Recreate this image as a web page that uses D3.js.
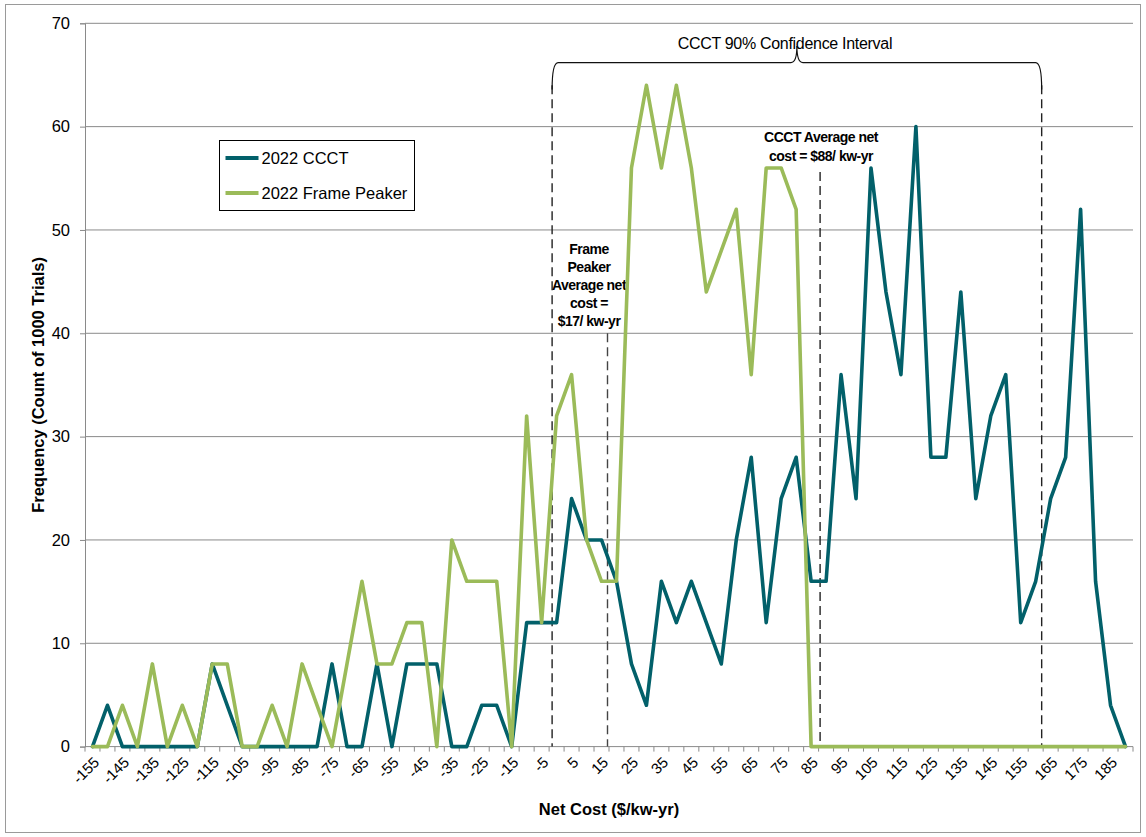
<!DOCTYPE html>
<html>
<head>
<meta charset="utf-8">
<script src="https://cdn.jsdelivr.net/npm/d3@7/dist/d3.min.js"></script>
<style>
  html, body { margin: 0; padding: 0; background: #fff; }
  svg { display: block; font-family: "Liberation Sans", Arial, sans-serif; }
</style>
</head>
<body>
<svg id="chart" width="1146" height="837"></svg>
<script>
// Net cost bins ($/kw-yr), one per category on the x axis
const categories = [-155, -150, -145, -140, -135, -130, -125, -120, -115, -110,
  -105, -100, -95, -90, -85, -80, -75, -70, -65, -60,
  -55, -50, -45, -40, -35, -30, -25, -20, -15, -10,
  -5, 0, 5, 10, 15, 20, 25, 30, 35, 40,
  45, 50, 55, 60, 65, 70, 75, 80, 85, 90,
  95, 100, 105, 110, 115, 120, 125, 130, 135, 140,
  145, 150, 155, 160, 165, 170, 175, 180, 185, 190];

// Frequency (count of 1000 trials) per bin
const ccct = [0, 4, 0, 0, 0, 0, 0, 0, 8, 4,
  0, 0, 0, 0, 0, 0, 8, 0, 0, 8,
  0, 8, 8, 8, 0, 0, 4, 4, 0, 12,
  12, 12, 24, 20, 20, 16, 8, 4, 16, 12,
  16, 12, 8, 20, 28, 12, 24, 28, 16, 16,
  36, 24, 56, 44, 36, 60, 28, 28, 44, 24,
  32, 36, 12, 16, 24, 28, 52, 16, 4, 0];

const framePeaker = [0, 0, 4, 0, 8, 0, 4, 0, 8, 8,
  0, 0, 4, 0, 8, 4, 0, 8, 16, 8,
  8, 12, 12, 0, 20, 16, 16, 16, 0, 32,
  12, 32, 36, 20, 16, 16, 56, 64, 56, 64,
  56, 44, 48, 52, 36, 56, 56, 52, 0, 0,
  0, 0, 0, 0, 0, 0, 0, 0, 0, 0,
  0, 0, 0, 0, 0, 0, 0, 0, 0, 0];

// Labelled bins on the x axis (every other category)
const xTickLabels = [-155, -145, -135, -125, -115, -105, -95, -85, -75, -65,
  -55, -45, -35, -25, -15, -5, 5, 15, 25, 35,
  45, 55, 65, 75, 85, 95, 105, 115, 125, 135,
  145, 155, 165, 175, 185];

const yTicks = [0, 10, 20, 30, 40, 50, 60, 70];

const seriesNames = ["2022 CCCT", "2022 Frame Peaker"];

// Annotation values ($/kw-yr)
const ccctInterval = [-1.5, 162];
const ccctAverage = 88;
const peakerAverage = 17;

const colors = { ccct: "#02606a", peaker: "#9bbb59", grid: "#8a8a8a" };

const svg = d3.select("#chart");
const plot = { left: 85, right: 1133, top: 23.3, bottom: 746.6 };

const x = d3.scaleBand().domain(categories).range([plot.left, plot.right]).paddingInner(0).paddingOuter(0);
const bw = x.bandwidth();
const cx = v => x(v) + bw / 2;
// Continuous position for values that fall between bins
const xv = d3.scaleLinear()
  .domain([categories[0], categories[categories.length - 1]])
  .range([cx(categories[0]), cx(categories[categories.length - 1])]);
const y = d3.scaleLinear().domain([0, 70]).range([plot.bottom, plot.top]);

// Outer frame
svg.append("rect")
  .attr("x", 5.5).attr("y", 4.5).attr("width", 1135).attr("height", 828)
  .attr("fill", "none").attr("stroke", "#9a9a9a").attr("stroke-width", 1);

// Horizontal gridlines
svg.append("g").selectAll("line").data(yTicks.filter(d => d > 0)).join("line")
  .attr("x1", plot.left).attr("x2", plot.right)
  .attr("y1", d => y(d)).attr("y2", d => y(d))
  .attr("stroke", colors.grid).attr("stroke-width", 1);

// Y axis
const yAxis = svg.append("g").attr("transform", `translate(${plot.left},0)`)
  .call(d3.axisLeft(y).tickValues(yTicks).tickSize(5).tickPadding(10).tickFormat(d3.format("d")));
yAxis.select(".domain").attr("stroke", colors.grid);
yAxis.selectAll(".tick line").attr("stroke", colors.grid);
yAxis.selectAll(".tick text").attr("font-size", 16.5).attr("fill", "#000")
  .attr("font-family", "Liberation Sans, Arial, sans-serif");

// X axis line and tick marks at bin boundaries
const xAxisG = svg.append("g");
xAxisG.append("line")
  .attr("x1", plot.left).attr("x2", plot.right)
  .attr("y1", plot.bottom).attr("y2", plot.bottom)
  .attr("stroke", colors.grid);
const boundaries = categories.map(c => x(c)).concat([x(categories[categories.length - 1]) + bw]);
xAxisG.selectAll("line.tk").data(boundaries).join("line").attr("class", "tk")
  .attr("x1", d => d).attr("x2", d => d)
  .attr("y1", plot.bottom).attr("y2", plot.bottom + 5)
  .attr("stroke", colors.grid);

// Rotated x tick labels
xAxisG.selectAll("text").data(xTickLabels).join("text")
  .attr("transform", d => `translate(${cx(d) + 4},${plot.bottom + 13}) rotate(-45)`)
  .attr("text-anchor", "end")
  .attr("dy", "0.35em")
  .attr("font-size", 15)
  .text(d => d);

// Axis titles
svg.append("text")
  .attr("transform", `translate(44,${(plot.top + plot.bottom) / 2}) rotate(-90)`)
  .attr("text-anchor", "middle")
  .attr("font-size", 16.5).attr("font-weight", "bold")
  .text("Frequency (Count of 1000 Trials)");

svg.append("text")
  .attr("x", (plot.left + plot.right) / 2).attr("y", 815)
  .attr("text-anchor", "middle")
  .attr("font-size", 16.5).attr("font-weight", "bold")
  .text("Net Cost ($/kw-yr)");

// Dashed reference lines
const dashed = [
  { v: ccctInterval[0], top: 64, color: "#222" },
  { v: peakerAverage, top: 40, color: "#444" },
  { v: ccctAverage, top: 55.6, color: "#222" },
  { v: ccctInterval[1], top: 64, color: "#222" }
];
svg.append("g").selectAll("line").data(dashed).join("line")
  .attr("x1", d => xv(d.v)).attr("x2", d => xv(d.v))
  .attr("y1", d => y(d.top)).attr("y2", plot.bottom)
  .attr("stroke", d => d.color).attr("stroke-width", 1.4)
  .attr("stroke-dasharray", "9,5");

// Curly brace over the CCCT confidence interval
const bx0 = xv(ccctInterval[0]), bx1 = xv(ccctInterval[1]);
const bm = (bx0 + bx1) / 2;
const bEnd = y(63.6), bLine = y(66.2), bTip = y(67.8);
const r = 6;
svg.append("path")
  .attr("d", `M${bx0},${bEnd} Q${bx0},${bLine} ${bx0 + r},${bLine} L${bm - r},${bLine} Q${bm},${bLine} ${bm},${bTip} Q${bm},${bLine} ${bm + r},${bLine} L${bx1 - r},${bLine} Q${bx1},${bLine} ${bx1},${bEnd}`)
  .attr("fill", "none").attr("stroke", "#111").attr("stroke-width", 1.2);

svg.append("text")
  .attr("x", bm - 12).attr("y", 49)
  .attr("text-anchor", "middle").attr("font-size", 16)
  .attr("letter-spacing", -0.3)
  .text("CCCT 90% Confidence Interval");

// Average cost notes
const peakerNote = ["Frame", "Peaker", "Average net", "cost =", "$17/ kw-yr"];
svg.append("text")
  .attr("text-anchor", "middle").attr("font-size", 14).attr("font-weight", "bold")
  .attr("letter-spacing", -0.5)
  .selectAll("tspan").data(peakerNote).join("tspan")
  .attr("x", 589).attr("y", (d, i) => 254 + i * 18)
  .text(d => d);

const ccctNote = ["CCCT Average net", "cost = $88/ kw-yr"];
svg.append("text")
  .attr("text-anchor", "middle").attr("font-size", 14).attr("font-weight", "bold")
  .attr("letter-spacing", -0.5)
  .selectAll("tspan").data(ccctNote).join("tspan")
  .attr("x", 821).attr("y", (d, i) => 142 + i * 18.5)
  .text(d => d);

// Series lines
const line = d3.line().x((d, i) => cx(categories[i])).y(d => y(d));
svg.append("path").datum(ccct)
  .attr("d", line).attr("fill", "none")
  .attr("stroke", colors.ccct).attr("stroke-width", 3.6)
  .attr("stroke-linejoin", "round").attr("stroke-linecap", "round");
svg.append("path").datum(framePeaker)
  .attr("d", line).attr("fill", "none")
  .attr("stroke", colors.peaker).attr("stroke-width", 3.6)
  .attr("stroke-linejoin", "round").attr("stroke-linecap", "round");

// Legend
const lg = svg.append("g").attr("transform", "translate(219.5,140.5)");
lg.append("rect").attr("width", 195).attr("height", 70)
  .attr("fill", "#fff").attr("stroke", "#000").attr("stroke-width", 1);
const legendItems = [
  { name: seriesNames[0], color: colors.ccct },
  { name: seriesNames[1], color: colors.peaker }
];
const li = lg.selectAll("g").data(legendItems).join("g")
  .attr("transform", (d, i) => `translate(0,${17.5 + i * 35})`);
li.append("line").attr("x1", 6).attr("x2", 39)
  .attr("stroke", d => d.color).attr("stroke-width", 4);
li.append("text").attr("x", 42).attr("dy", "0.35em")
  .attr("font-size", 16.5).text(d => d.name);
</script>
</body>
</html>
